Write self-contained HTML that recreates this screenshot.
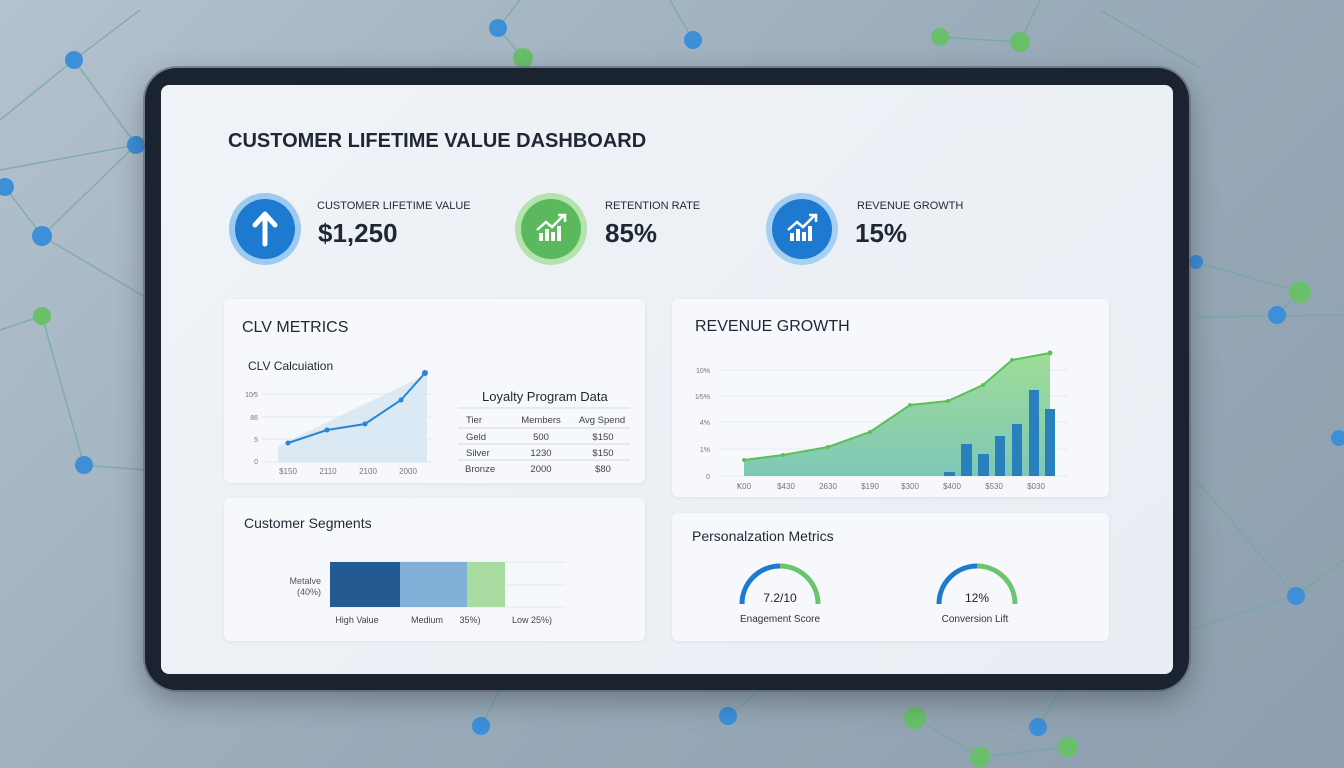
<!DOCTYPE html>
<html><head><meta charset="utf-8">
<style>
*{margin:0;padding:0;box-sizing:border-box}
body{width:1344px;height:768px;overflow:hidden;font-family:"Liberation Sans",sans-serif;background:linear-gradient(135deg,#b4c2ce 0%,#9aabba 50%,#8d9fae 100%);position:relative}
.abs{position:absolute}
.frame{left:145px;top:68px;width:1044px;height:622px;background:#1b2330;border-radius:32px;box-shadow:0 0 0 2px rgba(90,100,115,.6),0 10px 30px rgba(0,0,0,.3)}
.screen{left:161px;top:85px;width:1012px;height:589px;background:linear-gradient(135deg,#f0f3f7,#e8eef4);border-radius:8px}
.card{background:#f6f8fb;border-radius:6px;box-shadow:0 1px 4px rgba(0,0,0,.06)}
.t{position:absolute;color:#1e2835;white-space:nowrap}
</style></head><body>
<svg class="abs" style="left:0;top:0" width="1344" height="768">
<g stroke="#6fa8a0" stroke-width="1.5" opacity=".7">
<line x1="0" y1="120" x2="74" y2="60"/><line x1="74" y1="60" x2="136" y2="145"/><line x1="74" y1="60" x2="140" y2="10"/><line x1="136" y1="145" x2="42" y2="236"/><line x1="5" y1="187" x2="42" y2="236"/><line x1="42" y1="236" x2="150" y2="300"/><line x1="42" y1="316" x2="84" y2="465"/><line x1="0" y1="330" x2="42" y2="316"/><line x1="84" y1="465" x2="145" y2="470"/><line x1="0" y1="170" x2="136" y2="145"/>
<line x1="498" y1="28" x2="520" y2="0"/><line x1="498" y1="28" x2="523" y2="58"/><line x1="693" y1="40" x2="670" y2="0"/><line x1="940" y1="37" x2="1020" y2="42"/><line x1="1020" y1="42" x2="1040" y2="0"/><line x1="1100" y1="10" x2="1200" y2="68"/>
<line x1="1196" y1="262" x2="1300" y2="292"/><line x1="1277" y1="315" x2="1300" y2="292"/><line x1="1196" y1="317" x2="1344" y2="315"/><line x1="1196" y1="480" x2="1296" y2="596"/><line x1="1296" y1="596" x2="1344" y2="560"/><line x1="1190" y1="630" x2="1296" y2="596"/>
<line x1="481" y1="726" x2="500" y2="690"/><line x1="728" y1="716" x2="760" y2="690"/><line x1="915" y1="718" x2="980" y2="757"/><line x1="980" y1="757" x2="1068" y2="747"/><line x1="1038" y1="727" x2="1060" y2="690"/>
</g>
<g fill="#3d8fd8"><circle cx="74" cy="60" r="9"/><circle cx="136" cy="145" r="9"/><circle cx="5" cy="187" r="9"/><circle cx="42" cy="236" r="10"/><circle cx="84" cy="465" r="9"/><circle cx="498" cy="28" r="9"/><circle cx="693" cy="40" r="9"/><circle cx="1277" cy="315" r="9"/><circle cx="1296" cy="596" r="9"/><circle cx="1339" cy="438" r="8"/><circle cx="481" cy="726" r="9"/><circle cx="728" cy="716" r="9"/><circle cx="1038" cy="727" r="9"/><circle cx="1196" cy="262" r="7"/></g>
<g fill="#6abf6a"><circle cx="42" cy="316" r="9"/><circle cx="523" cy="58" r="10"/><circle cx="940" cy="37" r="9"/><circle cx="1020" cy="42" r="10"/><circle cx="1300" cy="292" r="11"/><circle cx="915" cy="718" r="11"/><circle cx="980" cy="757" r="10"/><circle cx="1068" cy="747" r="10"/></g>
</svg>
<div class="abs frame"></div>
<div class="abs screen"></div>
<div class="t" style="left:228px;top:130px;font-size:20px;font-weight:bold;color:#1e2835">CUSTOMER LIFETIME VALUE DASHBOARD</div>

<svg class="abs" style="left:0;top:0" width="1344" height="768">
<circle cx="265" cy="229" r="36" fill="#9ccaf0"/><circle cx="265" cy="229" r="30" fill="#1e7ad0"/>
<path d="M265 244V216M255 225L265 214L275 225" stroke="#fff" stroke-width="5" fill="none" stroke-linecap="round" stroke-linejoin="round"/>
<circle cx="551" cy="229" r="36" fill="#b5e3b0"/><circle cx="551" cy="229" r="30" fill="#5cb85c"/>
<circle cx="802" cy="229" r="36" fill="#a6d0f2"/><circle cx="802" cy="229" r="30" fill="#1e7ad0"/>
<g fill="#fff"><rect x="539" y="233" width="4" height="8"/><rect x="545" y="229" width="4" height="12"/><rect x="551" y="232" width="4" height="9"/><rect x="557" y="226" width="4" height="15"/>
<rect x="790" y="233" width="4" height="8"/><rect x="796" y="229" width="4" height="12"/><rect x="802" y="232" width="4" height="9"/><rect x="808" y="226" width="4" height="15"/></g>
<path d="M537 230L546 222L552 227L564 215M558 215H565V222" stroke="#fff" stroke-width="2.5" fill="none"/>
<path d="M788 230L797 222L803 227L815 215M809 215H816V222" stroke="#fff" stroke-width="2.5" fill="none"/>
</svg>
<div class="t" style="left:317px;top:200px;font-size:11px">CUSTOMER LIFETIME VALUE</div>
<div class="t" style="left:318px;top:218px;font-size:26px;font-weight:bold">$1,250</div>
<div class="t" style="left:605px;top:200px;font-size:11px">RETENTION RATE</div>
<div class="t" style="left:605px;top:218px;font-size:26px;font-weight:bold">85%</div>
<div class="t" style="left:857px;top:200px;font-size:11px">REVENUE GROWTH</div>
<div class="t" style="left:855px;top:218px;font-size:26px;font-weight:bold">15%</div>

<div class="abs card" style="left:224px;top:299px;width:421px;height:184px"></div>
<div class="abs card" style="left:672px;top:299px;width:437px;height:198px"></div>
<div class="abs card" style="left:224px;top:498px;width:421px;height:143px"></div>
<div class="abs card" style="left:672px;top:513px;width:437px;height:128px"></div>

<div class="t" style="left:242px;top:319px;font-size:16px">CLV METRICS</div>
<div class="t" style="left:248px;top:359px;font-size:12px">CLV Calcuiation</div>
<div class="t" style="left:482px;top:389px;font-size:13px">Loyalty Program Data</div>
<div class="t" style="left:695px;top:318px;font-size:16px">REVENUE GROWTH</div>
<div class="t" style="left:244px;top:515px;font-size:14px">Customer Segments</div>
<div class="t" style="left:692px;top:528px;font-size:14px">Personalzation Metrics</div>

<svg class="abs" style="left:0;top:0" width="1344" height="768" font-family="Liberation Sans,sans-serif">
<g stroke="#e3e8ee" stroke-width="1"><line x1="262" y1="394" x2="432" y2="394"/><line x1="262" y1="417" x2="432" y2="417"/><line x1="262" y1="439" x2="432" y2="439"/><line x1="262" y1="462" x2="432" y2="462"/></g>
<polygon points="278,446 427,374 427,462 278,462" fill="#d3e5f2" opacity=".8"/>
<polyline points="288,443 327,430 365,424 401,400 425,373" fill="none" stroke="#2a86d2" stroke-width="2"/>
<g fill="#2a86d2"><circle cx="288" cy="443" r="2.5"/><circle cx="327" cy="430" r="2.5"/><circle cx="365" cy="424" r="2.5"/><circle cx="401" cy="400" r="2.5"/><circle cx="425" cy="373" r="3"/></g>
<g font-size="7" fill="#777" text-anchor="end"><text x="258" y="397">10⁄5</text><text x="258" y="420">86</text><text x="258" y="442">5</text><text x="258" y="464">0</text></g>
<g font-size="8" fill="#777" text-anchor="middle"><text x="288" y="474">$150</text><text x="328" y="474">2110</text><text x="368" y="474">2100</text><text x="408" y="474">2000</text></g>
<g stroke="#d5dbe2"><line x1="458" y1="408" x2="630" y2="408"/><line x1="458" y1="428" x2="630" y2="428"/><line x1="458" y1="444" x2="630" y2="444"/><line x1="458" y1="460" x2="630" y2="460"/></g>
<g font-size="9.5" fill="#444"><text x="466" y="423">Tier</text><text x="466" y="440">Geld</text><text x="466" y="456">Silver</text><text x="465" y="472">Bronze</text></g>
<g font-size="9.5" fill="#444" text-anchor="middle"><text x="541" y="423">Members</text><text x="541" y="440">500</text><text x="541" y="456">1230</text><text x="541" y="472">2000</text>
<text x="602" y="423">Avg Spend</text><text x="603" y="440">$150</text><text x="603" y="456">$150</text><text x="603" y="472">$80</text></g>
<defs><linearGradient id="gg" x1="0" y1="0" x2="0" y2="1"><stop offset="0" stop-color="#9fdc96"/><stop offset="1" stop-color="#7ec8b8"/></linearGradient></defs>
<g stroke="#e6ebf0"><line x1="720" y1="370" x2="1068" y2="370"/><line x1="720" y1="396" x2="1068" y2="396"/><line x1="720" y1="422" x2="1068" y2="422"/><line x1="720" y1="449" x2="1068" y2="449"/><line x1="720" y1="476" x2="1068" y2="476"/></g>
<polygon points="744,460 783,455 828,447 870,432 910,405 948,401 983,385 1012,360 1050,353 1050,476 744,476" fill="url(#gg)"/>
<polyline points="744,460 783,455 828,447 870,432 910,405 948,401 983,385 1012,360 1050,353" fill="none" stroke="#5cbf5c" stroke-width="2"/>
<g fill="#5cbf5c"><circle cx="744" cy="460" r="2"/><circle cx="783" cy="455" r="2"/><circle cx="828" cy="447" r="2"/><circle cx="870" cy="432" r="2"/><circle cx="910" cy="405" r="2"/><circle cx="948" cy="401" r="2"/><circle cx="983" cy="385" r="2"/><circle cx="1012" cy="360" r="2"/><circle cx="1050" cy="353" r="2.5"/></g>
<g fill="#2a80bd"><rect x="944" y="472" width="11" height="4"/><rect x="961" y="444" width="11" height="32"/><rect x="978" y="454" width="11" height="22"/><rect x="995" y="436" width="10" height="40"/><rect x="1012" y="424" width="10" height="52"/><rect x="1029" y="390" width="10" height="86"/><rect x="1045" y="409" width="10" height="67"/></g>
<g font-size="7" fill="#777" text-anchor="end"><text x="710" y="373">10%</text><text x="710" y="399">1⁄5%</text><text x="710" y="425">4%</text><text x="710" y="452">1%</text><text x="710" y="479">0</text></g>
<g font-size="8" fill="#777" text-anchor="middle"><text x="744" y="489">Ꝁ00</text><text x="786" y="489">$430</text><text x="828" y="489">2630</text><text x="870" y="489">$190</text><text x="910" y="489">$300</text><text x="952" y="489">$400</text><text x="994" y="489">$530</text><text x="1036" y="489">$030</text></g>
<g stroke="#e3e8ee"><line x1="330" y1="562" x2="566" y2="562"/><line x1="330" y1="585" x2="566" y2="585"/><line x1="330" y1="607" x2="566" y2="607"/></g>
<rect x="330" y="562" width="70" height="45" fill="#245a92"/><rect x="400" y="562" width="67" height="45" fill="#82b0d8"/><rect x="467" y="562" width="38" height="45" fill="#a8dca0"/>
<g font-size="9" fill="#555" text-anchor="end"><text x="321" y="584">Metalve</text><text x="321" y="595">(40%)</text></g>
<g font-size="9" fill="#444" text-anchor="middle"><text x="357" y="623">High Value</text><text x="427" y="623">Medium</text><text x="470" y="623">35%)</text><text x="532" y="623">Low 25%)</text></g>
<path d="M742 604A38 38 0 0 1 780 566" fill="none" stroke="#1e7ad0" stroke-width="5"/>
<path d="M780 566A38 38 0 0 1 818 604" fill="none" stroke="#6cc56c" stroke-width="5"/>
<path d="M939 604A38 38 0 0 1 977 566" fill="none" stroke="#1e7ad0" stroke-width="5"/>
<path d="M977 566A38 38 0 0 1 1015 604" fill="none" stroke="#6cc56c" stroke-width="5"/>
<g text-anchor="middle" fill="#222"><text x="780" y="602" font-size="12">7.2/10</text><text x="977" y="602" font-size="12">12%</text>
<text x="780" y="622" font-size="10" fill="#333">Enagement Score</text><text x="975" y="622" font-size="10" fill="#333">Conversion Lift</text></g>
</svg>
</body></html>
